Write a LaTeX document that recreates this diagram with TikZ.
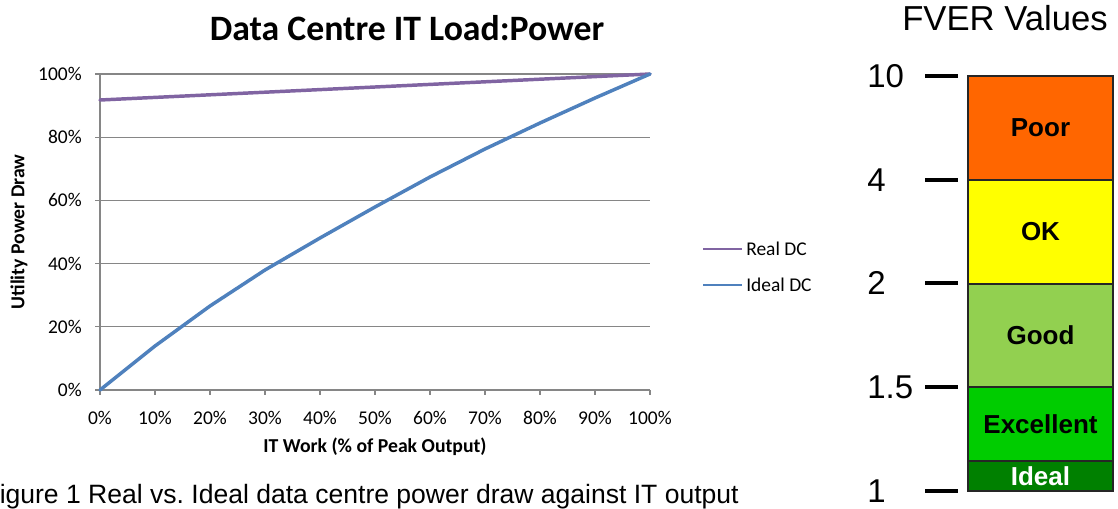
\documentclass[tikz,border=0pt]{standalone}
\usepackage{fontspec}
\setmainfont{Liberation Sans}
\newfontfamily\calfont{Carlito}
\definecolor{gridc}{HTML}{868686}
\definecolor{realc}{HTML}{8064A2}
\definecolor{idealc}{HTML}{4F81BD}
\definecolor{poorc}{HTML}{FF6600}
\definecolor{okc}{HTML}{FFFF00}
\definecolor{goodc}{HTML}{92D050}
\definecolor{excc}{HTML}{00CC00}
\definecolor{idealbandc}{HTML}{008000}
\tikzset{
  gridl/.style={draw=gridc, line width=1pt},
  ticklab/.style={inner sep=0pt, font=\calfont\fontsize{14.6}{17}\selectfont},
  axtitle/.style={inner sep=0pt, font=\calfont\bfseries\fontsize{14.8}{17}\selectfont},
  series/.style={line width=2.6pt, line join=round, line cap=round},
  band/.style={draw=black!85, line width=0.8pt},
  bandlab/.style={inner sep=0pt, font=\bfseries\fontsize{19.5}{22}\selectfont},
  fvertick/.style={line width=2.5pt, black},
  fverlab/.style={inner sep=0pt, anchor=west, font=\fontsize{24.75}{28}\selectfont},
}
\frenchspacing
\begin{document}
\begin{tikzpicture}[x=0.75pt,y=-0.75pt]
\useasboundingbox (0,0) rectangle (1118,508);

% title
\node[inner sep=0pt, font=\calfont\bfseries\fontsize{26.8}{30}\selectfont] (title) at (407,28) {Data Centre IT Load:Power};

% grid lines
\foreach \i in {0,...,4} {
  \draw[gridl] (100,{74+63.2*\i}) -- (650,{74+63.2*\i});
}
% axes
\draw[gridl] (100,74) -- (100,390);
\draw[gridl] (100,390) -- (650,390);
\foreach \i in {0,...,5} {
  \draw[gridl] (95,{390-63.2*\i}) -- (100,{390-63.2*\i});
}
\foreach \i in {0,...,10} {
  \draw[gridl] ({100+55*\i},390) -- ({100+55*\i},395);
}
% y tick labels
\foreach \v/\i in {0/0,20/1,40/2,60/3,80/4,100/5} {
  \node[ticklab, anchor=east] (yl\v) at (82,{390-63.2*\i}) {\v\%};
}
% x tick labels
\foreach \v/\i in {0/0,10/1,20/2,30/3,40/4,50/5,60/6,70/7,80/8,90/9,100/10} {
  \node[ticklab] (xl\v) at ({100+55*\i},418) {\v\%};
}
% axis titles
\node[axtitle] (xtitle) at (375,447) {IT Work (\% of Peak Output)};
\node[axtitle, rotate=90] (ytitle) at (19,232) {Utility Power Draw};

% series
\draw[series, realc] (100,100) -- (650,74);
\draw[series, idealc] (100,390) -- (155,346) -- (210,306) -- (265,270) -- (320,238)
  -- (375,207) -- (430,177) -- (485,149) -- (540,123) -- (595,98) -- (650,74);

% legend
\coordinate (lra) at (703,249);
\coordinate (lrb) at (742,249);
\coordinate (lia) at (703,285);
\coordinate (lib) at (742,285);
\draw[series, line width=2.2pt, line cap=butt, realc] (lra) -- (lrb);
\draw[series, line width=2.2pt, line cap=butt, idealc] (lia) -- (lib);
\node[ticklab, anchor=west] (lrt) at (746,249) {Real DC};
\node[ticklab, anchor=west] (lit) at (746,285) {Ideal DC};

% caption (left edge cropped in the reference)
\node[inner sep=0pt, anchor=base west, font=\fontsize{19.9}{22}\selectfont] (caption) at (-0.5,503) {igure 1 Real vs. Ideal data centre power draw against IT output};

% FVER panel
\node[inner sep=0pt, anchor=base west, font=\fontsize{26}{30}\selectfont] (fvertitle) at (902,30) {FVER Values};

\path[band, fill=poorc] (968,76) rectangle (1113,180);
\path[band, fill=okc] (968,180) rectangle (1113,284);
\path[band, fill=goodc] (968,284) rectangle (1113,387);
\path[band, fill=excc] (968,387) rectangle (1113,461);
\path[band, fill=idealbandc] (968,461) rectangle (1113,491);

\node[bandlab] (poor) at (1040.5,128) {Poor};
\node[bandlab] (ok) at (1040.5,232) {OK};
\node[bandlab] (good) at (1040.5,335.5) {Good};
\node[bandlab] (exc) at (1040.5,424) {Excellent};
\node[bandlab, text=white] (idl) at (1040.5,476) {Ideal};

\foreach \yy/\lab/\nm in {76/10/t10, 180/4/t4, 283/2/t2, 387/1.5/t15, 491/1/t1} {
  \coordinate (\nm a) at (925,\yy);
  \coordinate (\nm b) at (958,\yy);
  \draw[fvertick] (\nm a) -- (\nm b);
  \node[fverlab] (\nm l) at (867,\yy) {\lab};
}
\end{tikzpicture}
\end{document}
